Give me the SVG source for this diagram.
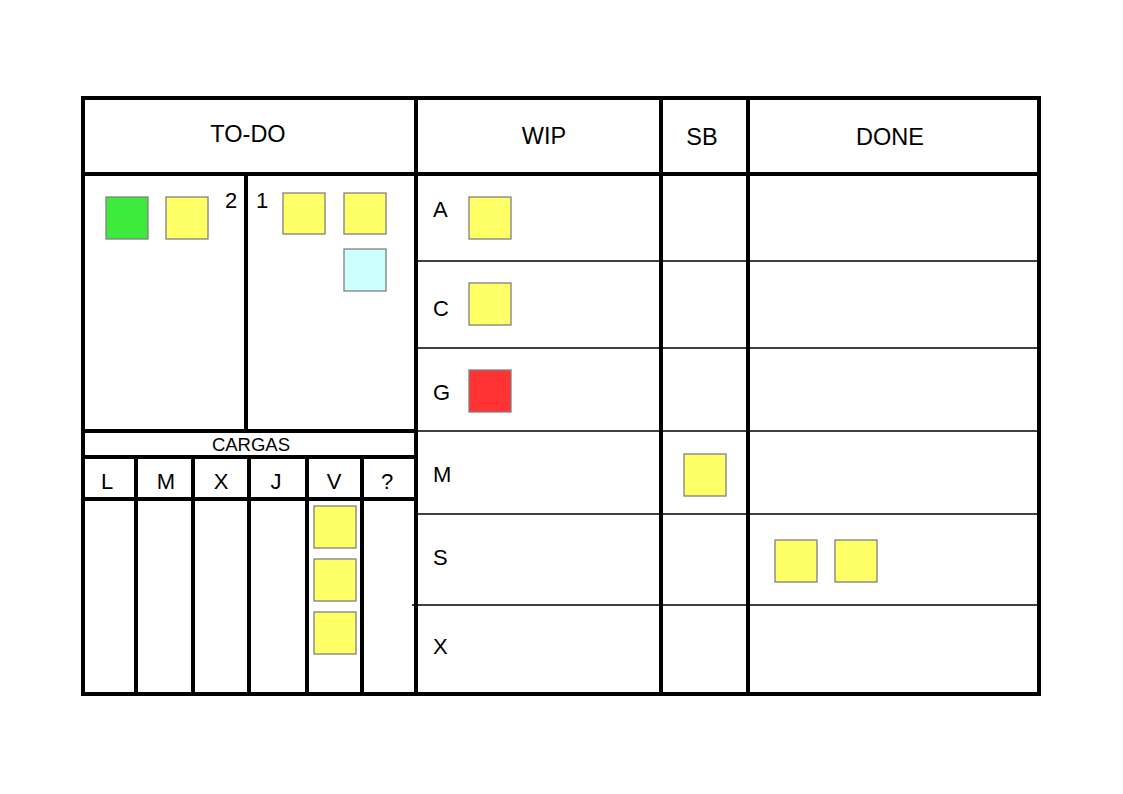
<svg xmlns="http://www.w3.org/2000/svg" width="1123" height="794" viewBox="0 0 1123 794">
<style>
.thick{stroke:#000;stroke-width:4;stroke-linecap:square;fill:none}
.thin{stroke:#000;stroke-width:1.5;fill:none}
.card{stroke:#808080;stroke-width:1.3}
.y{fill:#ffff66}
.g{fill:#3ceb3c}
.r{fill:#ff3333}
.c{fill:#ccffff}
text{font-family:"Liberation Sans",Arial,sans-serif;fill:#000}
.h{font-size:23.5px;text-anchor:middle}
.l{font-size:22px}
.d{font-size:22px;text-anchor:middle}
</style>
<rect width="1123" height="794" fill="#fff"/>
<g id="grid">
<rect class="thick" x="83" y="98" width="956" height="596"/>
<line class="thick" x1="83" y1="174" x2="1039" y2="174"/>
<line class="thick" x1="416" y1="98" x2="416" y2="694"/>
<line class="thick" x1="661" y1="98" x2="661" y2="694"/>
<line class="thick" x1="748" y1="98" x2="748" y2="694"/>
<line class="thick" x1="246" y1="174" x2="246" y2="431"/>
<line class="thick" x1="83" y1="431" x2="416" y2="431"/>
<line class="thick" x1="83" y1="457" x2="416" y2="457"/>
<line class="thick" x1="83" y1="499" x2="416" y2="499"/>
<line class="thick" x1="136" y1="457" x2="136" y2="694"/>
<line class="thick" x1="193" y1="457" x2="193" y2="694"/>
<line class="thick" x1="249" y1="457" x2="249" y2="694"/>
<line class="thick" x1="307" y1="457" x2="307" y2="694"/>
<line class="thick" x1="362" y1="457" x2="362" y2="694"/>
<line class="thin" x1="416" y1="261" x2="1039" y2="261"/>
<line class="thin" x1="416" y1="348" x2="1039" y2="348"/>
<line class="thin" x1="416" y1="431" x2="1039" y2="431"/>
<line class="thin" x1="416" y1="514" x2="1039" y2="514"/>
<line class="thin" x1="412" y1="605" x2="1039" y2="605"/>
</g>
<g id="headers">
<text class="h" x="248" y="142">TO-DO</text>
<text class="h" x="544" y="144">WIP</text>
<text class="h" x="702" y="145">SB</text>
<text class="h" x="890" y="145">DONE</text>
</g>
<g id="todo">
<text class="l" x="225" y="208">2</text>
<text class="l" x="256" y="208">1</text>
<rect class="card g" x="106" y="197" width="42" height="42"/>
<rect class="card y" x="166" y="197" width="42" height="42"/>
<rect class="card y" x="283" y="193" width="42" height="41"/>
<rect class="card y" x="344" y="193" width="42" height="41"/>
<rect class="card c" x="344" y="249" width="42" height="42"/>
</g>
<g id="cargas">
<text x="251" y="451" style="font-size:18.5px;text-anchor:middle">CARGAS</text>
<text class="d" x="107" y="489">L</text>
<text class="d" x="166" y="489">M</text>
<text class="d" x="221" y="489">X</text>
<text class="d" x="276" y="489">J</text>
<text class="d" x="334" y="489">V</text>
<text class="d" x="387" y="489">?</text>
<rect class="card y" x="314" y="506" width="42" height="42"/>
<rect class="card y" x="314" y="559" width="42" height="42"/>
<rect class="card y" x="314" y="612" width="42" height="42"/>
</g>
<g id="wip">
<text class="l" x="433" y="217">A</text>
<text class="l" x="433" y="316">C</text>
<text class="l" x="433" y="400">G</text>
<text class="l" x="433" y="482">M</text>
<text class="l" x="433" y="565">S</text>
<text class="l" x="433" y="654">X</text>
<rect class="card y" x="469" y="197" width="42" height="42"/>
<rect class="card y" x="469" y="283" width="42" height="42"/>
<rect class="card r" x="469" y="370" width="42" height="42"/>
</g>
<g id="sb">
<rect class="card y" x="684" y="454" width="42" height="42"/>
</g>
<g id="done">
<rect class="card y" x="775" y="540" width="42" height="42"/>
<rect class="card y" x="835" y="540" width="42" height="42"/>
</g>
</svg>
